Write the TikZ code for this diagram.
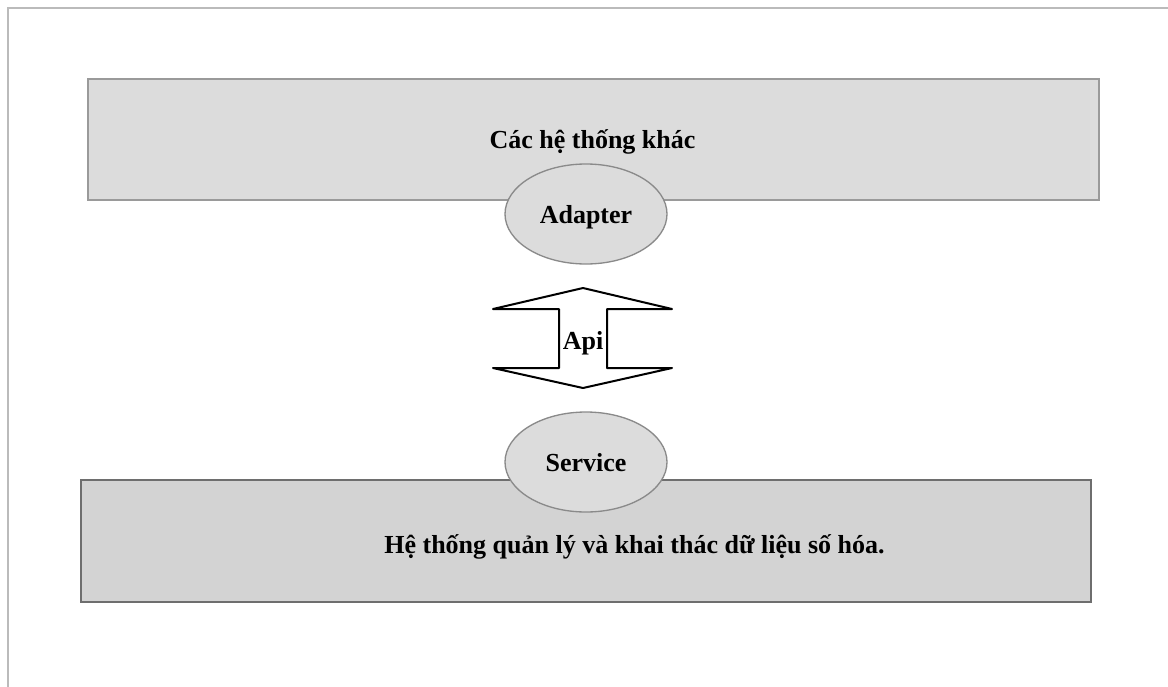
\documentclass[tikz,border=0pt]{standalone}
\usepackage{fontspec}
\setmainfont{Liberation Serif}
\usetikzlibrary{shapes.geometric}
\definecolor{boxa}{HTML}{DCDCDC}
\definecolor{boxb}{HTML}{D3D3D3}
\definecolor{linea}{HTML}{9A9A9A}
\definecolor{lineb}{HTML}{6E6E6E}
\definecolor{ellline}{HTML}{8A8A8A}
\definecolor{frameline}{HTML}{BBBBBB}
\tikzset{
  x=0.75pt, y=-0.75pt,
  lbl/.style={font=\bfseries\fontsize{19.5}{22}\selectfont, text=black, inner sep=0pt, anchor=base},
  sysbox/.style={rectangle, line width=1.5pt, inner sep=0pt},
  iface/.style={ellipse, fill=boxa, draw=ellline, line width=1pt, minimum width=121.5pt, minimum height=75pt, inner sep=0pt},
}
\begin{document}
\begin{tikzpicture}
\useasboundingbox (0,0) rectangle (1168,686);
\draw[frameline, line width=1.5pt] (8,690) -- (8,8) -- (1172,8);
% top system
\node[sysbox, fill=boxa, draw=linea, minimum width=758.25pt, minimum height=90.75pt] (other) at (593.5,139.5) {};
\node[lbl] (othertext) at (592.5,148) {Các hệ thống khác};
\node[iface] (adapter) at (586,214) {};
\node[lbl] (adaptertext) at (586,223) {Adapter};
% bottom system
\node[sysbox, fill=boxb, draw=lineb, minimum width=757.5pt, minimum height=91.5pt] (mine) at (586,541) {};
\node[iface] (service) at (586,462) {};
\node[lbl] (servicetext) at (586,471) {Service};
\node[lbl] (minetext) at (634.5,553) {Hệ thống quản lý và khai thác dữ liệu số hóa.};
% api double arrow
\draw[black, fill=white, line width=1.5pt, line join=round]
  (583,288) -- (672,309) -- (607,309) -- (607,368) -- (672,368) -- (583,388)
  -- (493,368) -- (559,368) -- (559,309) -- (493,309) -- cycle;
\node[lbl] (api) at (583,349) {Api};
\end{tikzpicture}
\end{document}
